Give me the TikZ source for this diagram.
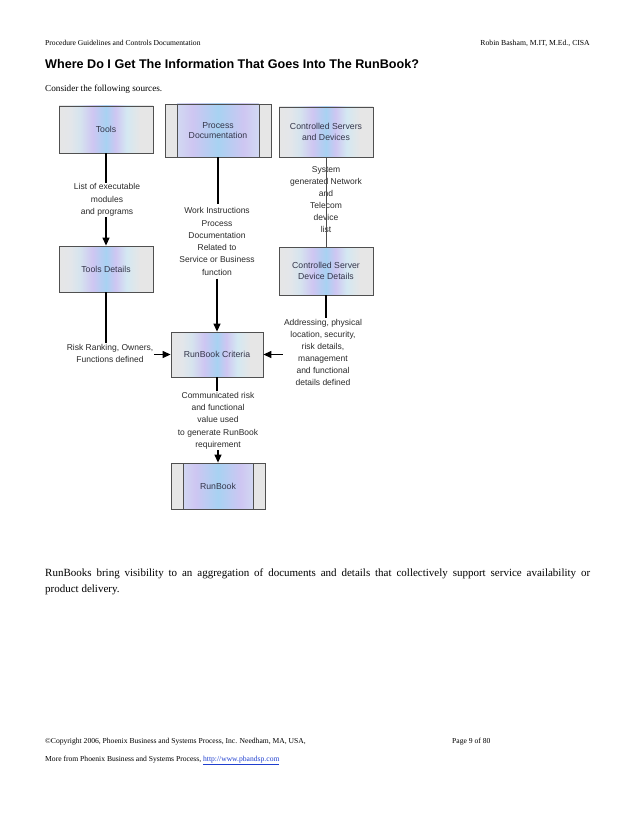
\documentclass[tikz,border=0pt]{standalone}
\usepackage{fontspec}
\setmainfont{Liberation Serif}
\newfontfamily\arial{Liberation Sans}
\usetikzlibrary{arrows.meta}
\definecolor{cg}{HTML}{E6E6E6}
\definecolor{ca}{HTML}{E3E6EA}
\definecolor{cb}{HTML}{D6E4EE}
\definecolor{cl}{HTML}{CEC6F2}
\definecolor{cm}{HTML}{A8D2F2}
\definecolor{cc}{HTML}{D4E8F2}
\definecolor{boxline}{HTML}{505050}
\definecolor{boxtext}{HTML}{34364A}
\definecolor{lbltext}{HTML}{2A2A2A}
\definecolor{linkblue}{HTML}{1F3FCF}
\pgfdeclarehorizontalshading{boxshade}{100bp}{color(0bp)=(cg); color(25bp)=(cg); color(31bp)=(ca); color(36bp)=(cb); color(43bp)=(cl); color(50bp)=(cm); color(55bp)=(cl); color(61bp)=(cc); color(68bp)=(cg); color(100bp)=(cg)}
\pgfdeclarehorizontalshading{innershade}{100bp}{color(0bp)=(cc); color(25bp)=(cc); color(38bp)=(cl); color(50bp)=(cm); color(62bp)=(cl); color(75bp)=(cc); color(100bp)=(cc)}
\tikzset{
  boxbase/.style={draw=boxline, line width=0.8pt, inner sep=0pt, align=center,
    font=\arial\fontsize{8.7}{10.5}\selectfont, text=boxtext},
  box/.style={boxbase, shade, shading=boxshade},
  sidebox/.style={boxbase, fill=cg,
    path picture={
      \shade[shading=innershade] ([xshift=12pt]path picture bounding box.south west) rectangle ([xshift=-12pt]path picture bounding box.north east);
      \draw[boxline, line width=0.8pt] ([xshift=12pt]path picture bounding box.south west) -- ([xshift=12pt]path picture bounding box.north west);
      \draw[boxline, line width=0.8pt] ([xshift=-12pt]path picture bounding box.south east) -- ([xshift=-12pt]path picture bounding box.north east);
    }},
  lbl/.style={font=\arial\fontsize{8.5}{12.3}\selectfont, text=lbltext, align=center, inner sep=1pt},
  conn/.style={line width=1.2pt, black},
  arr/.style={conn, -{Triangle[length=8pt,width=7pt]}},
  pagetext/.style={inner sep=0pt, text=black}
}
\begin{document}
\begin{tikzpicture}[x=1pt,y=-1pt]
\useasboundingbox (0,0) rectangle (638,826);
\fill[white] (0,0) rectangle (638,826);

% page text
\node[pagetext, anchor=base west, font=\fontsize{7.6}{8}\selectfont] (hl) at (45,45.5) {Procedure Guidelines and Controls Documentation};
\node[pagetext, anchor=base east, font=\fontsize{7.7}{8}\selectfont] (hr) at (590,45.5) {Robin Basham, M.IT, M.Ed., CISA};
\node[pagetext, anchor=base west, font=\arial\bfseries\fontsize{12.6}{14}\selectfont] (title) at (45,68.5) {Where Do I Get The Information That Goes Into The RunBook?};
\node[pagetext, anchor=base west, font=\fontsize{9.2}{11}\selectfont] (intro) at (45,92) {Consider the following sources.};
\node[pagetext, anchor=base west, font=\fontsize{11}{12}\selectfont] (p1) at (45,576.5) {\makebox[545pt][s]{RunBooks bring visibility to an aggregation of documents and details that collectively support service availability or}};
\node[pagetext, anchor=base west, font=\fontsize{11}{12}\selectfont] (p2) at (45,592) {product delivery.};
\node[pagetext, anchor=base west, font=\fontsize{7.6}{8}\selectfont] (f1) at (45,743) {©Copyright 2006, Phoenix Business and Systems Process, Inc. Needham, MA, USA,};
\node[pagetext, anchor=base west, font=\fontsize{7.6}{8}\selectfont] (f2) at (452,743) {Page 9 of 80};
\node[pagetext, anchor=base west, font=\fontsize{7.6}{8}\selectfont] (f3) at (45,761) {More from Phoenix Business and Systems Process, \textcolor{linkblue}{\underline{http://www.pbandsp.com}}};

% boxes
\node[box, minimum width=94pt, minimum height=47pt] (tools) at (106,129.5) {Tools};
\node[sidebox, minimum width=106pt, minimum height=53pt] (proc) at (218,130.5) {Process\\Documentation};
\node[box, minimum width=94pt, minimum height=50pt] (cs) at (326,132) {Controlled Servers\\and Devices};
\node[box, minimum width=94pt, minimum height=46pt] (td) at (106,269) {Tools Details};
\node[box, minimum width=94pt, minimum height=48pt] (csd) at (326,271) {Controlled Server\\Device Details};
\node[box, minimum width=92pt, minimum height=45pt] (crit) at (217,354.5) {RunBook Criteria};
\node[sidebox, minimum width=94pt, minimum height=46pt] (rb) at (218,486) {RunBook};

% labels
\node[lbl] (l1) at (107,200) {List of executable\\modules\\and programs};
\node[lbl, inner ysep=3pt] (l2) at (217,241.5) {Work Instructions\\Process\\Documentation\\Related to\\Service or Business\\function};
\node[lbl, font=\arial\fontsize{8.5}{12}\selectfont] (l3) at (326,200) {System\\generated Network\\and\\Telecom\\device\\list};
\node[lbl, font=\arial\fontsize{8.5}{12}\selectfont] (l4) at (110,353) {Risk Ranking, Owners,\\Functions defined};
\node[lbl, font=\arial\fontsize{8.5}{12}\selectfont] (l5) at (323,352) {Addressing, physical\\location, security,\\risk details,\\management\\and functional\\details defined};
\node[lbl] (l6) at (218,420.5) {Communicated risk\\and functional\\value used\\to generate RunBook\\requirement};

% connectors
\draw[conn] (tools.south) -- (tools.south |- l1.north);
\draw[arr] (td.north |- l1.south) -- (td.north);
\draw[conn] (proc.south) -- (proc.south |- l2.north);
\draw[arr] (crit.north |- l2.south) -- (crit.north);
\draw[line width=0.6pt, black!70] (cs.south) -- (csd.north);
\draw[conn] (td.south) -- (td.south |- l4.north);
\draw[arr] (l4.east |- crit.west) -- (crit.west);
\draw[conn] (csd.south) -- (csd.south |- l5.north);
\draw[arr] (l5.west |- crit.east) -- (crit.east);
\draw[conn] (crit.south) -- (crit.south |- l6.north);
\draw[arr] (rb.north |- l6.south) -- (rb.north);
\end{tikzpicture}
\end{document}
